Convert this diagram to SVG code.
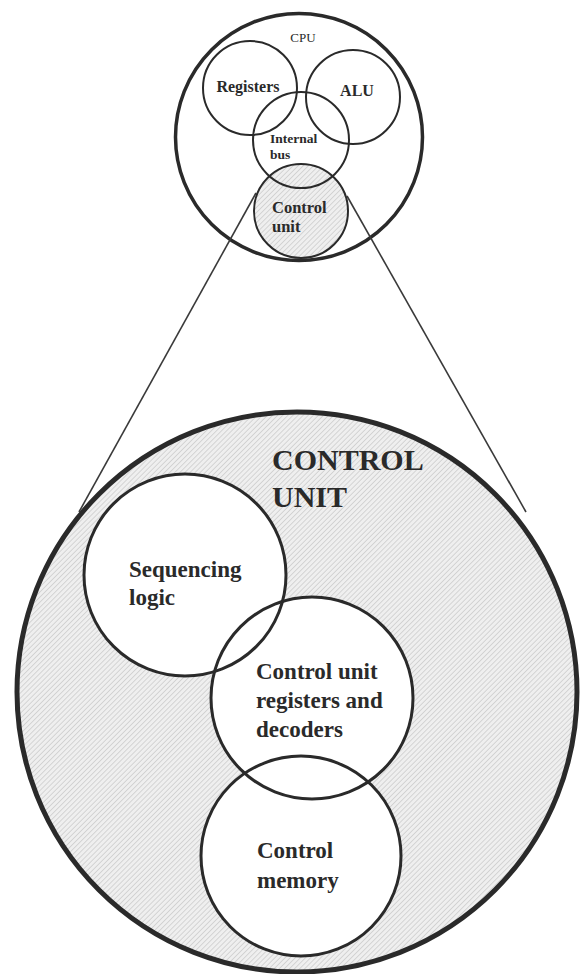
<svg xmlns="http://www.w3.org/2000/svg" width="585" height="974" viewBox="0 0 585 974">
<style>
.t{font-family:"Liberation Serif","Times New Roman",serif;font-weight:bold;fill:#2a2a2a}
.n{font-family:"Liberation Serif","Times New Roman",serif;fill:#2a2a2a}
.c{fill:none;stroke:#2a2a2a}
.w{fill:#fff;stroke:none}
.conn{stroke:#3a3a3a;stroke-width:1.6;fill:none}
</style>
<defs>
<pattern id="hatch" width="3.6" height="3.6" patternUnits="userSpaceOnUse" patternTransform="rotate(45)">
<rect width="3.6" height="3.6" fill="#efefef"/>
<line x1="0" y1="0" x2="0" y2="3.6" stroke="#c6c6c6" stroke-width="1.3"/>
</pattern>
</defs>
<rect width="585" height="974" fill="#fff"/>

<g id="cpu">
<circle cx="299" cy="137" r="123.5" class="c" stroke-width="3.5"/>
<text x="303" y="42" class="n" font-size="13" text-anchor="middle">CPU</text>
</g>
<g id="control-unit-small">
<circle cx="301" cy="211" r="47" fill="url(#hatch)" stroke="#2a2a2a" stroke-width="2"/>
<text x="272" y="213" class="t" font-size="16.5">Control</text>
<text x="272" y="232" class="t" font-size="16.5">unit</text>
</g>
<g id="registers">
<circle cx="250" cy="88" r="47" class="c" stroke-width="2"/>
<text x="248" y="92" class="t" font-size="16" text-anchor="middle">Registers</text>
</g>
<g id="alu">
<circle cx="353" cy="97" r="47" class="c" stroke-width="2"/>
<text x="357" y="96" class="t" font-size="16" text-anchor="middle">ALU</text>
</g>
<g id="internal-bus">
<circle cx="301" cy="140" r="48" class="c" stroke-width="2"/>
<text x="270" y="143" class="t" font-size="13.5">Internal</text>
<text x="270" y="159" class="t" font-size="13.5">bus</text>
</g>

<g id="control-unit">
<circle cx="297" cy="692" r="280" fill="url(#hatch)" stroke="#2a2a2a" stroke-width="5"/>
<text x="272" y="470" class="t" font-size="30">CONTROL</text>
<text x="272" y="507" class="t" font-size="30">UNIT</text>
</g>
<g id="sequencing-logic">
<circle cx="185" cy="575" r="101" class="w"/>
</g>
<g id="cu-registers-decoders">
<circle cx="312" cy="698" r="101" class="w"/>
</g>
<g id="control-memory">
<circle cx="301" cy="856" r="100" class="w"/>
</g>
<g id="outlines">
<circle cx="185" cy="575" r="101" class="c" stroke-width="3"/>
<circle cx="312" cy="698" r="101" class="c" stroke-width="3"/>
<circle cx="301" cy="856" r="100" class="c" stroke-width="3"/>
<text x="129" y="577" class="t" font-size="23">Sequencing</text>
<text x="129" y="605" class="t" font-size="23">logic</text>
<text x="256" y="679" class="t" font-size="23">Control unit</text>
<text x="256" y="708" class="t" font-size="23">registers and</text>
<text x="256" y="737" class="t" font-size="23">decoders</text>
<text x="257" y="858" class="t" font-size="23">Control</text>
<text x="257" y="888" class="t" font-size="23">memory</text>
</g>

<g id="connectors">
<line x1="256" y1="193" x2="79" y2="512" class="conn"/>
<line x1="347" y1="196" x2="526" y2="512" class="conn"/>
</g>
</svg>
